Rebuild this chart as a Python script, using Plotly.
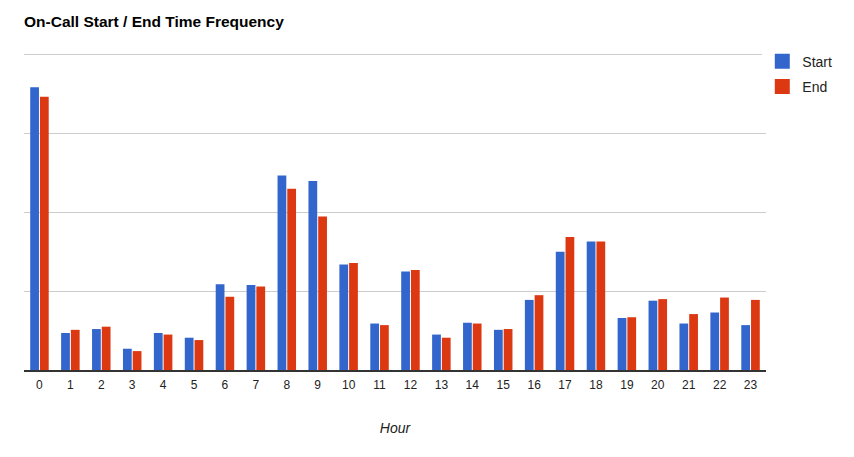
import plotly.graph_objects as go

hours = [str(h) for h in range(24)]
start_vals = [35.9, 4.7, 5.2, 2.7, 4.7, 4.1, 10.9, 10.8, 24.7, 24.0, 13.4, 5.9,
              12.5, 4.5, 6.0, 5.1, 8.9, 15.0, 16.3, 6.6, 8.8, 5.9, 7.3, 5.7]
end_vals = [34.7, 5.1, 5.5, 2.4, 4.5, 3.8, 9.3, 10.6, 23.0, 19.5, 13.6, 5.7,
            12.7, 4.1, 5.9, 5.2, 9.5, 16.9, 16.3, 6.7, 9.0, 7.1, 9.2, 8.9]
series_names = ["Start", "End"]
series_colors = ["#3366cc", "#dc3912"]

FONT = "Liberation Sans, Arial, sans-serif"

fig = go.Figure()
for name, vals, col in zip(series_names, [start_vals, end_vals], series_colors):
    fig.add_trace(go.Bar(x=hours, y=vals, name=name, marker_color=col,
                         marker_line_width=0, showlegend=False))
# legend entries with larger square swatches
for name, col in zip(series_names, series_colors):
    fig.add_trace(go.Scatter(x=[None], y=[None], mode="markers", name=name,
                             legendgroup=name,
                             marker=dict(symbol="square", size=15, color=col)))

fig.update_layout(
    width=846, height=449,
    paper_bgcolor="white", plot_bgcolor="white",
    margin=dict(l=16, r=88, t=43, b=87),
    barmode="group", bargap=0.37, bargroupgap=0.1,
    font=dict(family=FONT, color="#222222", size=12),
    title=dict(text="<b>On-Call Start / End Time Frequency</b>", x=16/846, xanchor="left",
               y=1-14/449, yanchor="middle",
               font=dict(family=FONT, size=15.5, color="#000000")),
    legend=dict(x=0.995, xanchor="left", y=1.017, yanchor="top",
                font=dict(family=FONT, size=14, color="#222222"),
                itemwidth=30, tracegroupgap=4),
    showlegend=True,
)
fig.update_xaxes(type="category", showgrid=False, showline=True, linecolor="#333333",
                 linewidth=2, ticks="", tickfont=dict(size=12, color="#222222"),
                 ticklabelstandoff=3,
                 title=dict(text="<i>Hour</i>", font=dict(size=14, color="#222222"), standoff=32))
fig.update_yaxes(range=[0, 40.5], dtick=10, showticklabels=False, gridcolor="#cccccc",
                 zeroline=False, showline=False)

fig.write_html("out.html")
